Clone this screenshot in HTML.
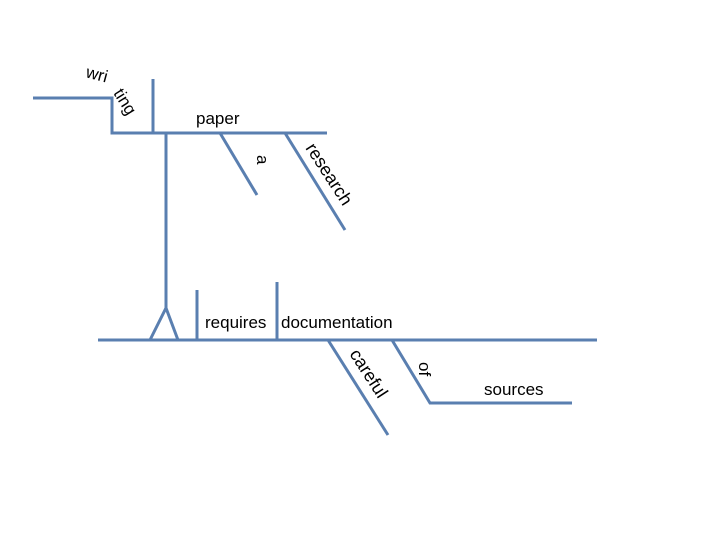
<!DOCTYPE html>
<html><head><style>html,body{margin:0;padding:0;background:#fff;}svg{display:block}</style></head>
<body>
<svg width="720" height="540" viewBox="0 0 720 540" xmlns="http://www.w3.org/2000/svg">
<g stroke="#5a7fb0" stroke-width="3" fill="none" stroke-linecap="butt">
<polyline points="33,98 112,98 112,133 327,133"/>
<line x1="153" y1="79" x2="153" y2="133"/>
<line x1="166" y1="133" x2="166" y2="308"/>
<polyline points="150,340 166,308 178,340"/>
<line x1="220" y1="133" x2="257" y2="195"/>
<line x1="285" y1="133" x2="345" y2="230"/>
<line x1="98" y1="340" x2="597" y2="340"/>
<line x1="197" y1="290" x2="197" y2="340"/>
<line x1="277" y1="282" x2="277" y2="340"/>
<line x1="328" y1="340" x2="388" y2="435"/>
<polyline points="392,340 430,403 572,403"/>
</g>
<g font-family="Liberation Sans, Arial, sans-serif" font-size="17" fill="#000">
<text x="196" y="124">paper</text>
<text x="205" y="328">requires</text>
<text x="281" y="328">documentation</text>
<text x="484" y="395">sources</text>
<text x="85" y="77" transform="rotate(15 85 77)">wri</text>
<text x="113" y="93" transform="rotate(58 113 93)">ting</text>
<text x="257" y="155" transform="rotate(90 257 155)">a</text>
<text x="305" y="148" font-size="18" transform="rotate(57 305 148)">research</text>
<text x="349" y="354" font-size="18" transform="rotate(57 349 354)">careful</text>
<text x="419" y="362" transform="rotate(90 419 362)">of</text>
</g>
</svg>
</body></html>
